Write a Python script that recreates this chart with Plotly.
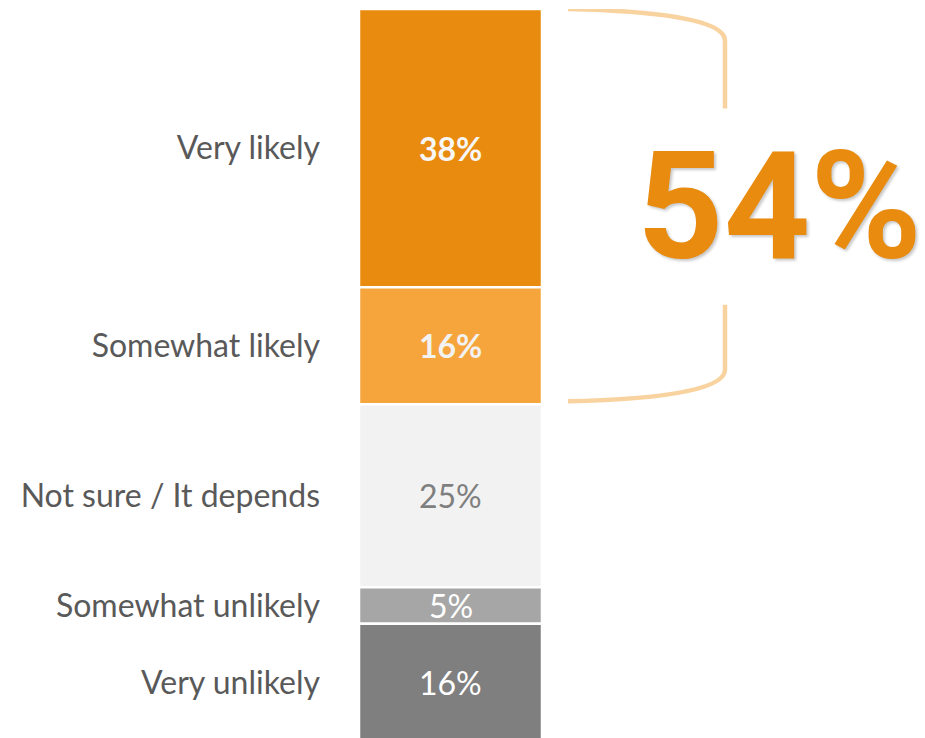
import plotly.graph_objects as go

# Survey response shares (percent), top to bottom of the stacked bar
categories = ["Very likely", "Somewhat likely", "Not sure / It depends",
              "Somewhat unlikely", "Very unlikely"]
values = [38, 16, 25, 5, 16]
bar_colors = ["#E88B0E", "#F5A53C", "#F2F2F2", "#A6A6A6", "#7F7F7F"]
text_colors = ["#F7F7F7", "#F2F2F2", "#7F7F7F", "#FFFFFF", "#FFFFFF"]
text_bold = [True, True, False, False, False]

# Number of top categories grouped by the bracket ("likely" total)
n_likely = 2

bases = [sum(values[:i]) for i in range(len(values))]
centers = [b + v / 2 for b, v in zip(bases, values)]
likely_total = sum(values[:n_likely])

W, H = 925, 738
left_px, top_px = 359, 9
bar_px = 183
x_range = [-0.5, -0.5 + (W - left_px) / bar_px]
y_range = [99.6, 0]

fig = go.Figure()
for cat, v, b, c in zip(categories, values, bases, bar_colors):
    fig.add_trace(go.Bar(
        x=[0], y=[v], base=[b], width=1, name=cat,
        marker=dict(color=c, line=dict(color="white", width=2.5)),
        hoverinfo="skip", showlegend=False,
    ))

# value labels inside each segment
for v, ctr, tc, bold in zip(values, centers, text_colors, text_bold):
    fig.add_annotation(
        x=0, y=ctr, xref="x", yref="y", text=f"{v}%", showarrow=False,
        font=dict(family="Lato", size=32, color=tc,
                  weight="bold" if bold else "normal"),
        xanchor="center", yanchor="middle",
    )

# bracket spanning the "likely" segments
y0, y1 = 0, likely_total - 0.4
xl, xr = 0.642, 1.5
ymid = likely_total / 2
gap = 13.4
bracket_color = "#F9D39F"
top_path = (f"M {xl},{y0} C 1.09,{y0 + 0.25} {xr},{y0 + 1.3} {xr},{y0 + 4.3} "
            f"L {xr},{ymid - gap}")
bot_path = (f"M {xr},{ymid + gap} L {xr},{y1 - 4.3} "
            f"C {xr},{y1 - 1.3} 1.09,{y1 - 0.25} {xl},{y1}")
for p in (top_path, bot_path):
    fig.add_shape(type="path", path=p, xref="x", yref="y",
                  line=dict(color=bracket_color, width=4.5))

fig.add_annotation(
    x=1.8, y=ymid, xref="x", yref="y",
    text=f"{likely_total}%", showarrow=False,
    font=dict(family="Roboto", size=151, color="#E88B0E", weight="bold",
              shadow="2px 2px 3px rgba(0,0,0,0.22)"),
    xanchor="center", yanchor="middle",
)

fig.update_layout(
    width=W, height=H,
    margin=dict(l=left_px, r=0, t=top_px, b=0),
    paper_bgcolor="white", plot_bgcolor="white",
    barmode="overlay",
    xaxis=dict(range=x_range, visible=False, fixedrange=True),
    yaxis=dict(
        range=y_range, tickvals=centers, ticktext=categories,
        showgrid=False, zeroline=False, showline=False,
        ticks="", ticklabelstandoff=38,
        tickfont=dict(family="Lato", size=32, color="#595959"),
        fixedrange=True,
    ),
)

fig.write_html("out.html")
